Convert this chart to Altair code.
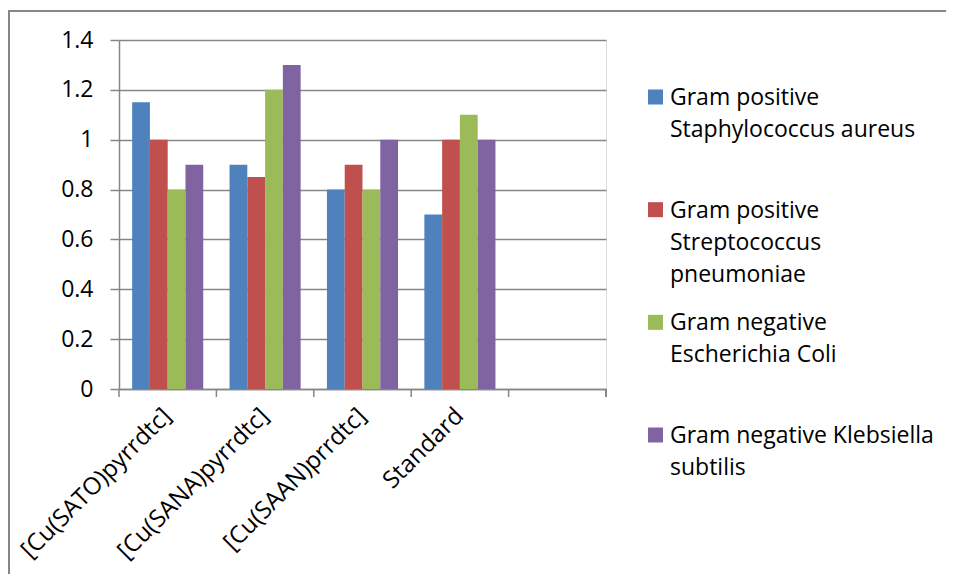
import altair as alt
import pandas as pd

# ---- data ----
categories = ["[Cu(SATO)pyrrdtc]", "[Cu(SANA)pyrrdtc]", "[Cu(SAAN)prrdtc]", "Standard"]
x_slots = categories + [" "]
series = [
    "Gram positive Staphylococcus aureus",
    "Gram positive Streptococcus pneumoniae",
    "Gram negative Escherichia Coli",
    "Gram negative Klebsiella subtilis",
]
legend_labels = [
    "Gram positive|Staphylococcus aureus",
    "Gram positive|Streptococcus|pneumoniae",
    "Gram negative|Escherichia Coli",
    "Gram negative Klebsiella|subtilis",
]
colors = ["#4F81BD", "#C0504D", "#9BBB59", "#8064A2"]
staph = [1.15, 0.9, 0.8, 0.7]
strep = [1.0, 0.85, 0.9, 1.0]
ecoli = [0.8, 1.2, 0.8, 1.1]
kleb = [0.9, 1.3, 1.0, 1.0]
y_ticks = [0, 0.2, 0.4, 0.6, 0.8, 1.0, 1.2, 1.4]

rows = []
for s, vals in zip(series, [staph, strep, ecoli, kleb]):
    for c, v in zip(categories, vals):
        rows.append({"compound": c, "series": s, "value": v})
df = pd.DataFrame(rows)
leg_df = pd.DataFrame({"series": series, "label": legend_labels})
slot_df = pd.DataFrame({"compound": x_slots})

W, H = 487, 349
GRAY = "#868686"
FONT = "Open Sans"

x_scale = alt.Scale(domain=x_slots, paddingInner=0, paddingOuter=0)
x_axis = alt.Axis(
    title=None, labelAngle=-45, labelAlign="right", labelBaseline="middle",
    ticks=False, domain=True, domainColor=GRAY, domainWidth=1.5,
    labelFont=FONT, labelFontSize=24, labelColor="black", labelPadding=23,
    labelOverlap=False, labelLimit=400,
)
color_enc = alt.Color("series:N", scale=alt.Scale(domain=series, range=colors), legend=None)

bars = alt.Chart(df).mark_bar().encode(
    x=alt.X("compound:N", scale=x_scale, axis=x_axis, sort=x_slots),
    xOffset=alt.XOffset("series:N", scale=alt.Scale(domain=series, paddingInner=0, paddingOuter=0.74)),
    y=alt.Y("value:Q", scale=alt.Scale(domain=[0, 1.4], nice=False),
            axis=alt.Axis(values=y_ticks, title=None, format="~g", grid=True,
                          gridColor=GRAY, gridWidth=1.5, domainColor=GRAY, domainWidth=1.5,
                          tickColor=GRAY, tickWidth=1.5, tickSize=9, labelPadding=17,
                          labelFont=FONT, labelFontSize=23, labelColor="black")),
    color=color_enc,
)

ticks = alt.Chart(slot_df).mark_rule(color=GRAY, strokeWidth=1.5).encode(
    x=alt.X("compound:N", scale=x_scale, axis=x_axis, sort=x_slots, bandPosition=0),
    y=alt.value(H), y2=alt.value(H + 8),
)
end_tick = alt.Chart(slot_df).mark_rule(color=GRAY, strokeWidth=1.5).encode(
    x=alt.value(W), y=alt.value(H), y2=alt.value(H + 8),
)

border = alt.Chart(slot_df).mark_rect(fill=None, stroke=GRAY, strokeWidth=2, clip=False).encode(
    x=alt.value(-110), x2=alt.value(1000), y=alt.value(-29), y2=alt.value(900),
)

leg_y = alt.Y("series:N", scale=alt.Scale(domain=series, type="point", range=[57, 395], padding=0), axis=None)
leg_sym = alt.Chart(leg_df).mark_square(size=225, opacity=1).encode(
    x=alt.value(536.5), y=leg_y, color=color_enc,
)
leg_txt = alt.Chart(leg_df).mark_text(
    align="left", baseline="top", dy=-10, lineBreak="|", lineHeight=32,
    font=FONT, fontSize=23, color="black",
).encode(x=alt.value(551), y=leg_y, text="label:N")

chart = alt.layer(border, bars, ticks, end_tick, leg_sym, leg_txt).resolve_scale(
    y="independent"
).properties(
    width=W, height=H,
    autosize=alt.AutoSizeParams(type="none"),
    padding={"left": 111, "top": 32, "right": 340, "bottom": 185},
).configure_view(stroke=None).configure(background="white")

chart.save("out.html", embed_options={"renderer": "svg", "actions": False})
